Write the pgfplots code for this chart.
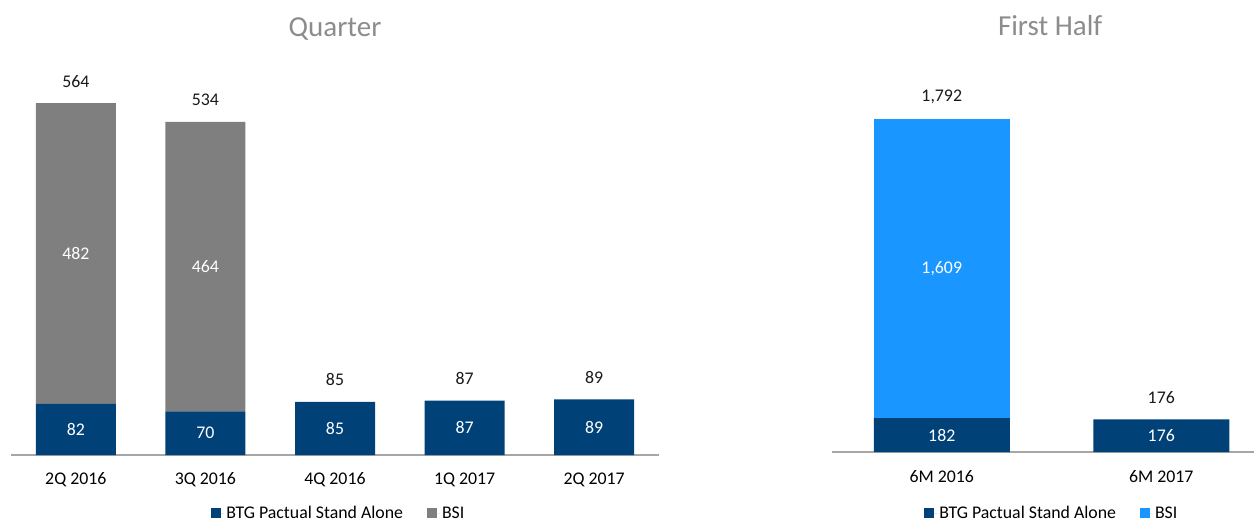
\documentclass[border=0pt]{standalone}
\usepackage{pgfplots}
\pgfplotsset{compat=1.18}
\usepackage{fontspec}
\setmainfont{Carlito}

\definecolor{btg}{HTML}{004178}
\definecolor{bsi}{HTML}{7F7F7F}
\definecolor{bsilight}{HTML}{1996FF}
\definecolor{axisgray}{HTML}{A6A6A6}
\definecolor{titlegray}{HTML}{8C8C8C}

\pgfplotsset{
  panel/.style={
    ybar stacked, scale only axis, anchor=south west,
    ymin=0, enlarge x limits=false, clip=false,
    axis y line=none, axis x line=bottom,
    axis line style={-, draw=axisgray, line width=1.3pt},
    ytick=\empty, xtick=data, major tick length=0pt,
    xticklabel style={anchor=center, yshift=-25pt, font=\fontsize{17.8}{21}\selectfont},
    title style={font=\fontsize{29}{34}\selectfont, text=titlegray, anchor=base, yshift=18pt},
    legend style={draw=none, fill=none, legend columns=2, anchor=center,
      font=\fontsize{17.8}{21}\selectfont,
      /tikz/every even column/.append style={column sep=22pt}},
    legend image code/.code={\path (0pt,0pt) -- (13pt,0pt);\fill[##1] (0pt,-5pt) rectangle (10pt,5pt);},
  },
  overlay/.style={
    scale only axis, anchor=south west, ymin=0, clip=false,
    axis lines=none, xtick=\empty, ytick=\empty,
  },
  lbl/.style={draw=none, mark=none, nodes near coords,
    point meta=explicit symbolic,
    every node near coord/.style={anchor=center, text=#1,
      font=\fontsize{17.8}{21}\selectfont}},
  sumlbl/.style={draw=none, mark=none, nodes near coords,
    point meta=explicit symbolic,
    every node near coord/.style={anchor=center, yshift=22pt,
      text=black!90, font=\fontsize{17.8}{21}\selectfont}},
}

\begin{document}
\begin{tikzpicture}
\useasboundingbox (0,0) rectangle (1254pt,523pt);

% Quarter
\begin{axis}[panel,
  at={(11pt,68pt)}, width=648pt, height=395pt,
  xmin=-0.5, xmax=4.5, ymax=633,
  bar width=80pt,
  xtick={0,1,2,3,4},
  xticklabels={2Q 2016,3Q 2016,4Q 2016,1Q 2017,2Q 2017},
  title={Quarter}, title style={at={(0.5,1)}},
  legend style={at={(0.506,-0.147)}},
]
\addplot[draw=none, fill=btg] coordinates {(0,82) (1,70) (2,85) (3,87) (4,89)};
\addplot[draw=none, fill=bsi] coordinates {(0,482) (1,464) (2,0) (3,0) (4,0)};
\legend{BTG Pactual Stand Alone, BSI}
\end{axis}
\begin{axis}[overlay,
  at={(11pt,68pt)}, width=648pt, height=395pt,
  xmin=-0.5, xmax=4.5, ymax=633,
]
% segment labels at segment midpoints
\addplot[lbl=white] coordinates {(0,41)[82] (1,35)[70] (2,42.5)[85] (3,43.5)[87] (4,44.5)[89]};
\addplot[lbl=white] coordinates {(0,323)[482] (1,302)[464]};
% totals above bars
\addplot[sumlbl] coordinates {(0,564)[564] (1,534)[534] (2,85)[85] (3,87)[87] (4,89)[89]};
\end{axis}

% First Half
\begin{axis}[panel,
  at={(832pt,71pt)}, width=422pt, height=392pt,
  xmin=-0.5, xmax=1.4225, ymax=2110,
  bar width=136pt,
  xtick={0,1},
  xticklabels={6M 2016,6M 2017},
  title={First Half}, title style={at={(0.517,1)}},
  legend style={at={(0.521,-0.156)}},
]
\addplot[draw=none, fill=btg] coordinates {(0,182) (1,176)};
\addplot[draw=none, fill=bsilight] coordinates {(0,1609) (1,0)};
\legend{BTG Pactual Stand Alone, BSI}
\end{axis}
\begin{axis}[overlay,
  at={(832pt,71pt)}, width=422pt, height=392pt,
  xmin=-0.5, xmax=1.4225, ymax=2110,
]
\addplot[lbl=white] coordinates {(0,91)[182] (1,88)[176]};
\addplot[lbl=white] coordinates {(0,986.5)[1,609]};
\addplot[sumlbl] coordinates {(0,1791)[1,792] (1,176)[176]};
\end{axis}
\end{tikzpicture}
\end{document}
